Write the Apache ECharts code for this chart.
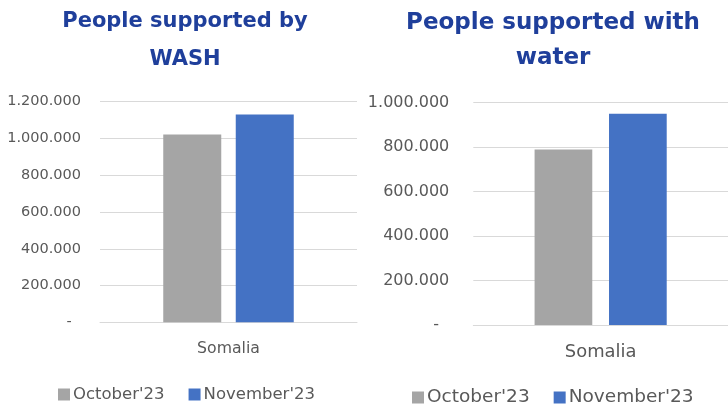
<!DOCTYPE html>
<html>
<head>
<meta charset="utf-8">
<script src="https://cdn.jsdelivr.net/npm/echarts@6/dist/echarts.min.js"></script>
<style>
html,body{margin:0;padding:0;background:#fff;}
#chart{width:728px;height:405px;}
</style>
</head>
<body>
<div id="chart"></div>
<script>
var categories = ['Somalia'];
var seriesNames = ["October'23", "November'23"];
var washOctober = [1022000];
var washNovember = [1131000];
var waterOctober = [790000];
var waterNovember = [950000];
var titles = ['People supported by\nWASH', 'People supported with\nwater'];
var colors = ['#A5A5A5', '#4472C4'];

function fmt(v) {
  if (v === 0) return '-  ';
  return String(v).replace(/\B(?=(\d{3})+(?!\d))/g, '.');
}

var FONT = 'DejaVu Sans';
var GRAY = '#595959';
var TITLE = '#1F3F9B';

var chart = echarts.init(document.getElementById('chart'), null, {renderer: 'canvas'});
chart.setOption({
  animation: false,
  backgroundColor: '#fff',
  color: colors,
  title: [
    {text: titles[0], left: 185, top: 3, textAlign: 'center', padding: 0,
     textStyle: {fontFamily: FONT, fontWeight: 'bold', fontSize: 21, color: TITLE, lineHeight: 38}},
    {text: titles[1], left: 553, top: 6, textAlign: 'center', padding: 0,
     textStyle: {fontFamily: FONT, fontWeight: 'bold', fontSize: 23, color: TITLE, lineHeight: 35}}
  ],
  legend: [
    {data: seriesNames.map(function(n){return n;}), left: 58, top: 386, padding: 0,
     itemWidth: 12, itemHeight: 12, itemGap: 24, icon: 'rect',
     selectedMode: false,
     textStyle: {fontFamily: FONT, fontSize: 16.5, color: GRAY, padding: [0,0,0,-2]}},
    {data: seriesNames.map(function(n){return {name: n + ' '};}), left: 412, top: 388, padding: 0,
     itemWidth: 12, itemHeight: 12, itemGap: 24, icon: 'rect',
     selectedMode: false,
     formatter: function(n){ return n.trim(); },
     textStyle: {fontFamily: FONT, fontSize: 18.5, color: GRAY, padding: [0,0,0,-2]}}
  ],
  grid: [
    {left: 100, width: 257, top: 101.7, height: 220.6},
    {left: 473.3, width: 254.7, top: 102.7, height: 222.3}
  ],
  xAxis: [
    {type: 'category', gridIndex: 0, data: categories,
     axisLine: {lineStyle: {color: '#D9D9D9'}}, axisTick: {show: false},
     axisLabel: {fontFamily: FONT, fontSize: 15.7, color: GRAY, margin: 19}},
    {type: 'category', gridIndex: 1, data: categories,
     axisLine: {lineStyle: {color: '#D9D9D9'}}, axisTick: {show: false},
     axisLabel: {fontFamily: FONT, fontSize: 17.9, color: GRAY, margin: 18}}
  ],
  yAxis: [
    {type: 'value', gridIndex: 0, min: 0, max: 1200000, interval: 200000,
     axisLine: {show: false}, axisTick: {show: false},
     splitLine: {lineStyle: {color: '#D9D9D9'}},
     axisLabel: {fontFamily: FONT, fontSize: 14.5, color: GRAY, margin: 19, formatter: fmt}},
    {type: 'value', gridIndex: 1, min: 0, max: 1000000, interval: 200000,
     axisLine: {show: false}, axisTick: {show: false},
     splitLine: {lineStyle: {color: '#D9D9D9'}},
     axisLabel: {fontFamily: FONT, fontSize: 16, color: GRAY, margin: 24, formatter: fmt}}
  ],
  series: [
    {name: seriesNames[0], type: 'bar', xAxisIndex: 0, yAxisIndex: 0, data: washOctober,
     barWidth: 58, barGap: '25%', itemStyle: {color: colors[0]}},
    {name: seriesNames[1], type: 'bar', xAxisIndex: 0, yAxisIndex: 0, data: washNovember,
     barWidth: 58, barGap: '25%', itemStyle: {color: colors[1]}},
    {name: seriesNames[0] + ' ', type: 'bar', xAxisIndex: 1, yAxisIndex: 1, data: waterOctober,
     barWidth: 57.7, barGap: '29%', itemStyle: {color: colors[0]}},
    {name: seriesNames[1] + ' ', type: 'bar', xAxisIndex: 1, yAxisIndex: 1, data: waterNovember,
     barWidth: 57.7, barGap: '29%', itemStyle: {color: colors[1]}}
  ]
});
</script>
</body>
</html>
